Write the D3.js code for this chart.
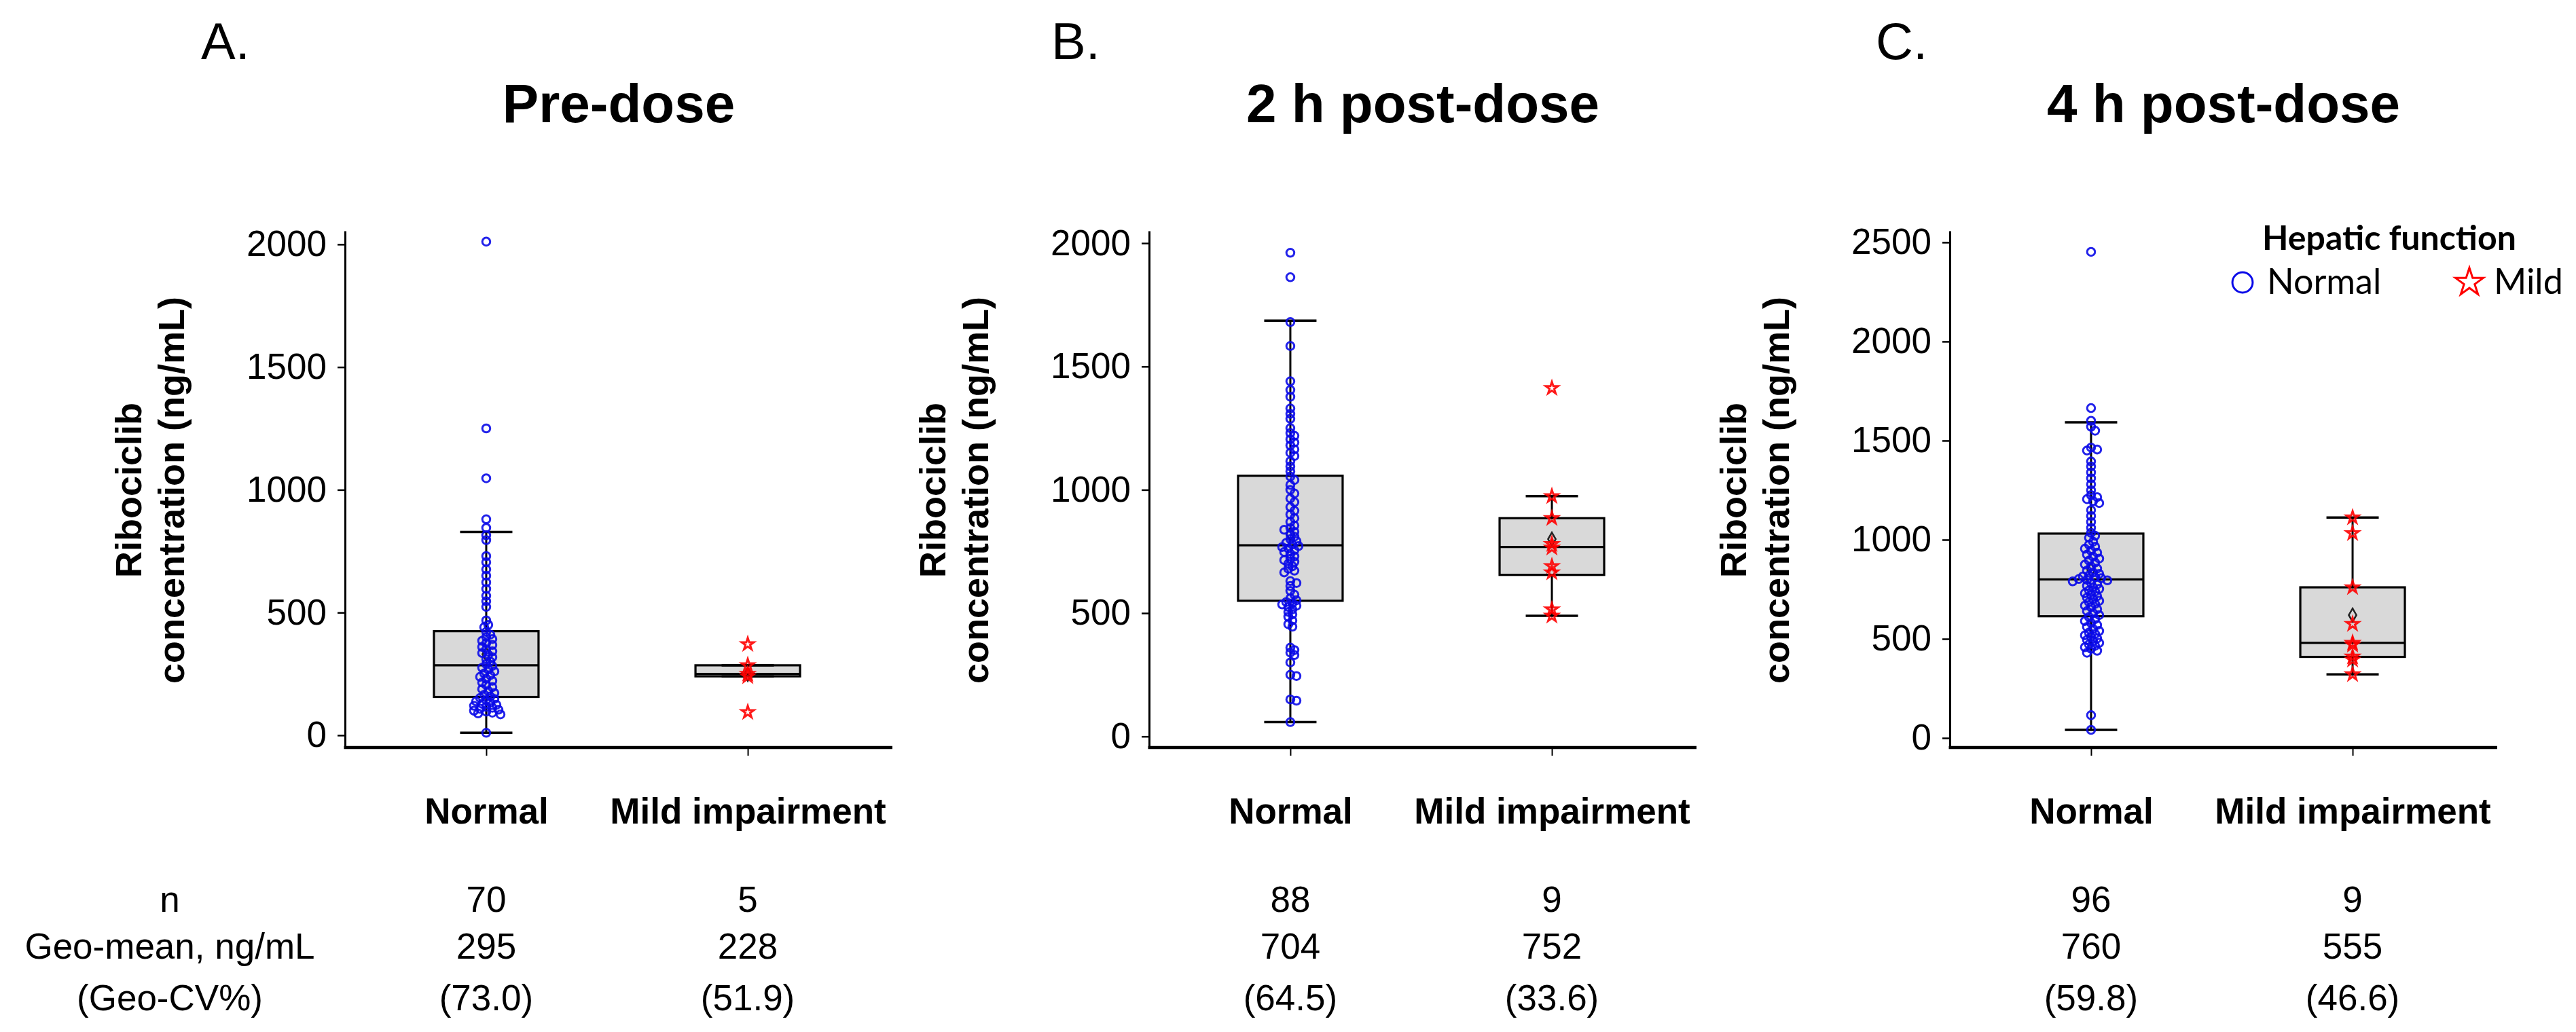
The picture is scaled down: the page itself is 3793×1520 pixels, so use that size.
<!DOCTYPE html>
<html>
<head>
<meta charset="utf-8">
<script src="https://cdn.jsdelivr.net/npm/d3@7"></script>
<style>
  body { margin: 0; background: #fff; }
</style>
</head>
<body>
<div id="chart"></div>
<script>

// ---- values ----
var panelLetters = ["A.", "B.", "C."];
var panelTitles = ["Pre-dose", "2 h post-dose", "4 h post-dose"];
var groups = ["Normal", "Mild impairment"];
var yTicks = [[0, 500, 1000, 1500, 2000], [0, 500, 1000, 1500, 2000], [0, 500, 1000, 1500, 2000, 2500]];
var yDomains = [[-50, 2055], [-45, 2050], [-48, 2558]];

var preNormal = [2011, 1250, 1047, 880, 845, 815, 795, 730, 705, 676, 650, 623, 596, 568, 546, 523, 468, 450, 440,
  421, 410, 400, 392, 385, 375, 368, 360, 350, 342, 335, 328, 318, 310, 300, 290,
  282, 275, 268, 260, 252, 245, 238, 230, 222, 215, 205, 196, 188, 180, 172, 165, 158,
  152, 148, 143, 138, 133, 128, 124, 120, 116, 112, 108, 104, 100, 96, 92, 89, 85, 10];
var preMild = [371, 285, 250, 240, 94];

var h2Normal = [1961, 1862, 1680, 1583, 1440, 1405, 1377, 1330, 1308, 1288, 1250, 1230, 1219, 1205, 1192, 1180, 1164, 1150, 1137, 1116, 1095, 1075, 1054, 1040,
  1020, 1000, 985, 965, 950, 930, 915, 900, 885, 870, 855, 845, 838, 830, 820, 810, 800, 792, 785, 778,
  772, 768, 762, 755, 748, 740, 730, 720, 715, 708, 700, 690, 680, 672, 665, 630, 622, 610, 590, 575, 560, 552,
  545, 540, 535, 530, 525, 515, 505, 495, 485, 470, 455, 445, 360, 350, 340, 330, 300, 250, 245, 150, 145, 58];
var h2Mild = [1412, 974, 885, 780, 765, 690, 665, 515, 489];

var h4Normal = [2452, 1664, 1600, 1570, 1550, 1465, 1455, 1450, 1395, 1370, 1340, 1310, 1280, 1250, 1225, 1215, 1205, 1195, 1185, 1150, 1120, 1090, 1060, 1035,
  1020, 1010, 990, 975, 965, 955, 945, 935, 925, 915, 905, 895, 885, 875, 865, 855, 845, 835, 828, 820, 815, 810, 806, 802,
  798, 795, 790, 782, 775, 768, 760, 752, 745, 738, 730, 722, 715, 708, 700, 692, 685, 676, 668, 660, 650, 640, 630, 620,
  610, 600, 590, 580, 570, 560, 550, 540, 532, 525, 518, 510, 502, 495, 488, 480, 472, 465, 458, 450, 440, 430, 115, 41];
var h4Mild = [1112, 1033, 760, 575, 480, 470, 410, 395, 321];

var pointData = [[preNormal, preMild], [h2Normal, h2Mild], [h4Normal, h4Mild]];

// box statistics per panel: [Normal, Mild]
var boxQ1 = [[156, 240], [550, 655], [614, 409]];
var boxMedian = [[285, 250], [775, 768], [800, 480]];
var boxQ3 = [[424, 285], [1057, 885], [1031, 760]];
var whiskerLow = [[10, 240], [58, 489], [41, 321]];
var whiskerHigh = [[828, 285], [1686, 974], [1592, 1112]];
var groupMean = [[330, 248], [820, 800], [848, 620]];

// summary table under the plots
var tableRows = ["n", "Geo-mean, ng/mL", "(Geo-CV%)"];
var nValues = [[70, 5], [88, 9], [96, 9]];
var geoMean = [[295, 228], [704, 752], [760, 555]];
var geoCV = [["(73.0)", "(51.9)"], ["(64.5)", "(33.6)"], ["(59.8)", "(46.6)"]];

var legendItems = ["Normal", "Mild"];

// ---- layout ----
var panelLeft = [508, 1692, 2871];
var letterX = [296, 1548, 2762];
var blue = "#0a0ae8", red = "#ff0000";
var fontMain = "'Liberation Sans', Arial, sans-serif";

var svg = d3.select("#chart").append("svg")
    .attr("width", 3793)
    .attr("height", 1520)
    .style("font-family", fontMain);


/*
 * BoxPanel - one box plot panel
 */

BoxPanel = function(_svg, _index){
  this.svg = _svg;
  this.index = _index;
  this.initVis();
}

BoxPanel.prototype.initVis = function(){
  var vis = this;
  var i = vis.index;

  vis.top = 340;
  vis.bottom = 1101;
  vis.width = 806;

  vis.g = vis.svg.append("g")
      .attr("transform", "translate(" + panelLeft[i] + ",0)");

  vis.x = d3.scalePoint()
      .domain(groups)
      .range([0, 801])
      .padding(0.54);

  vis.y = d3.scaleLinear()
      .domain(yDomains[i])
      .range([vis.bottom, vis.top]);

  vis.yAxis = d3.axisLeft(vis.y)
      .tickValues(yTicks[i])
      .tickFormat(d3.format("d"))
      .tickSize(11)
      .tickSizeOuter(0)
      .tickPadding(16);

  vis.xAxis = d3.axisBottom(vis.x)
      .tickSize(12)
      .tickSizeOuter(0)
      .tickPadding(62);

  var ya = vis.g.append("g").attr("class", "y-axis").call(vis.yAxis);
  ya.select(".domain").attr("stroke-width", 3);
  ya.selectAll(".tick line").attr("stroke-width", 2.5);
  ya.selectAll(".tick text").style("font-size", "53px").style("font-family", fontMain);

  var xa = vis.g.append("g").attr("class", "x-axis")
      .attr("transform", "translate(0," + vis.bottom + ")")
      .call(vis.xAxis);
  xa.select(".domain").remove();
  xa.append("line").attr("x1", -1.5).attr("x2", vis.width).attr("stroke", "#000").attr("stroke-width", 4.5);
  xa.selectAll(".tick line").attr("stroke-width", 2);
  xa.selectAll(".tick text").style("font-size", "53px").style("font-weight", "bold").style("font-family", fontMain);

  // titles
  vis.svg.append("text")
      .attr("x", letterX[i]).attr("y", 87)
      .style("font-size", "76px")
      .text(panelLetters[i]);

  vis.g.append("text")
      .attr("x", 403).attr("y", 180)
      .attr("text-anchor", "middle")
      .style("font-size", "80px").style("font-weight", "bold")
      .text(panelTitles[i]);

  // y axis label, two lines
  var yLabel = ["Ribociclib", "concentration (ng/mL)"];
  vis.g.selectAll(".ylab").data(yLabel).enter().append("text")
      .attr("class", "ylab")
      .attr("text-anchor", "middle")
      .attr("transform", function(d, k){ return "translate(" + (-300 + k * 63) + ",722) rotate(-90)"; })
      .style("font-size", "54px").style("font-weight", "bold")
      .text(function(d){ return d; });

  vis.wrangleData();
}

BoxPanel.prototype.wrangleData = function(){
  var vis = this;
  var i = vis.index;

  vis.boxes = groups.map(function(g, k){
    return { group: g, q1: boxQ1[i][k], med: boxMedian[i][k], q3: boxQ3[i][k],
      lo: whiskerLow[i][k], hi: whiskerHigh[i][k], mean: groupMean[i][k] };
  });

  // simple beeswarm for the crowded normal group, stars stay on the centre line
  vis.points = [];
  groups.forEach(function(g, k){
    var placed = [];
    var sorted = pointData[i][k].slice().sort(d3.descending);
    sorted.forEach(function(v){
      var py = vis.y(v), off = 0;
      if (k === 0) {
        for (var n = 0; n < 60; n++) {
          off = n === 0 ? 0 : (n % 2 ? 1 : -1) * Math.ceil(n / 2) * 3;
          var free = placed.every(function(p){
            return (p.x - off) * (p.x - off) + (p.y - py) * (p.y - py) >= 49;
          });
          if (free) break;
        }
      }
      placed.push({ x: off, y: py });
      vis.points.push({ group: g, k: k, value: v, dx: off });
    });
  });

  vis.updateVis();
}

BoxPanel.prototype.updateVis = function(){
  var vis = this;
  var half = 77;

  var box = vis.g.selectAll(".box").data(vis.boxes).enter().append("g").attr("class", "box");

  box.append("line")
      .attr("x1", function(d){ return vis.x(d.group); })
      .attr("x2", function(d){ return vis.x(d.group); })
      .attr("y1", function(d){ return vis.y(d.hi); })
      .attr("y2", function(d){ return vis.y(d.lo); })
      .attr("stroke", "#000").attr("stroke-width", 3);

  box.append("rect")
      .attr("x", function(d){ return vis.x(d.group) - half; })
      .attr("width", half * 2)
      .attr("y", function(d){ return vis.y(d.q3); })
      .attr("height", function(d){ return vis.y(d.q1) - vis.y(d.q3); })
      .attr("fill", "#d9d9d9")
      .attr("stroke", "#000").attr("stroke-width", 3.2);

  box.append("line")
      .attr("x1", function(d){ return vis.x(d.group) - half; })
      .attr("x2", function(d){ return vis.x(d.group) + half; })
      .attr("y1", function(d){ return vis.y(d.med); })
      .attr("y2", function(d){ return vis.y(d.med); })
      .attr("stroke", "#000").attr("stroke-width", 3.2);

  ["lo", "hi"].forEach(function(key){
    box.append("line")
        .attr("x1", function(d){ return vis.x(d.group) - half / 2; })
        .attr("x2", function(d){ return vis.x(d.group) + half / 2; })
        .attr("y1", function(d){ return vis.y(d[key]); })
        .attr("y2", function(d){ return vis.y(d[key]); })
        .attr("stroke", "#000").attr("stroke-width", 3.5);
  });

  // mean marker
  box.append("path")
      .attr("d", d3.symbol().type(d3.symbolDiamond).size(110))
      .attr("transform", function(d){ return "translate(" + vis.x(d.group) + "," + vis.y(d.mean) + ")"; })
      .attr("fill", "none").attr("stroke", "#222").attr("stroke-width", 2.5);

  var star = d3.symbol().type(d3.symbolStar).size(100);
  var circle = d3.symbol().type(d3.symbolCircle).size(105);

  vis.g.selectAll(".pt").data(vis.points).enter().append("path")
      .attr("class", "pt")
      .attr("d", function(d){ return d.k === 0 ? circle() : star(); })
      .attr("transform", function(d){ return "translate(" + (vis.x(d.group) + d.dx) + "," + vis.y(d.value) + ")"; })
      .attr("fill", "none")
      .attr("stroke", function(d){ return d.k === 0 ? blue : red; })
      .attr("stroke-opacity", 0.9)
      .attr("stroke-width", 3);

  // summary table values
  var cols = [nValues, geoMean, geoCV];
  var baselines = [1343, 1412, 1488];
  cols.forEach(function(arr, r){
    vis.g.selectAll(".tv" + r).data(groups).enter().append("text")
        .attr("class", "tv" + r)
        .attr("x", function(g){ return vis.x(g); })
        .attr("y", baselines[r])
        .attr("text-anchor", "middle")
        .style("font-size", "53px")
        .text(function(g, k){ return arr[vis.index][k]; });
  });
}

var panels = [0, 1, 2].map(function(i){ return new BoxPanel(svg, i); });

// row labels of the table
svg.selectAll(".rowlab").data(tableRows).enter().append("text")
    .attr("class", "rowlab")
    .attr("x", 250)
    .attr("y", function(d, k){ return [1343, 1412, 1488][k]; })
    .attr("text-anchor", "middle")
    .style("font-size", "53px")
    .text(function(d){ return d; });

// legend
var legend = svg.append("g").style("font-family", "Lato, 'Open Sans', sans-serif");
legend.append("text")
    .attr("x", 3518).attr("y", 368)
    .attr("text-anchor", "middle")
    .style("font-size", "50px").style("font-weight", "bold")
    .text("Hepatic function");

var legendX = [3302, 3636];
legendItems.forEach(function(name, k){
  legend.append("path")
      .attr("d", d3.symbol().type(k === 0 ? d3.symbolCircle : d3.symbolStar).size(k === 0 ? 700 : 520)())
      .attr("transform", "translate(" + legendX[k] + ",416)")
      .attr("fill", "none")
      .attr("stroke", k === 0 ? blue : red)
      .attr("stroke-width", 3);
  legend.append("text")
      .attr("x", legendX[k] + 36).attr("y", 433)
      .style("font-size", "52px")
      .text(name);
});

</script>
</body>
</html>
